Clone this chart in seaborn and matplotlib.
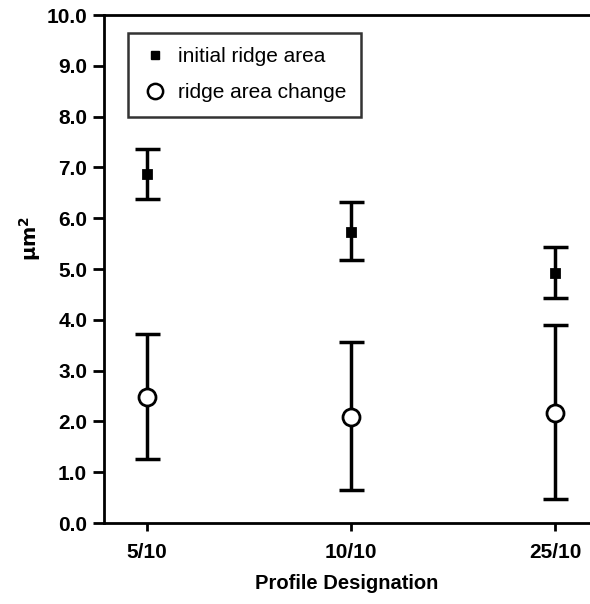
import numpy as np
import pandas as pd
import seaborn as sns
import matplotlib.pyplot as plt
from matplotlib.lines import Line2D

# Data
profiles = ["5/10", "10/10", "25/10"]
initial_mean = [6.88, 5.73, 4.92]
initial_low = [6.38, 5.17, 4.43]
initial_high = [7.37, 6.33, 5.43]
change_mean = [2.48, 2.09, 2.16]
change_low = [1.27, 0.65, 0.48]
change_high = [3.72, 3.57, 3.90]

df = pd.DataFrame({
    "pos": np.arange(len(profiles)),
    "profile": profiles,
    "initial": initial_mean,
    "change": change_mean,
})

sns.set_theme(style="white")
plt.rcParams["font.family"] = ["Liberation Sans", "DejaVu Sans"]
plt.rcParams["text.color"] = "black"
plt.rcParams["axes.labelcolor"] = "black"
plt.rcParams["xtick.color"] = "black"
plt.rcParams["ytick.color"] = "black"

fig = plt.figure(figsize=(5.9, 6.04), dpi=100)
ax = fig.add_axes([0.176, 0.134, 0.824, 0.841])

# Error bars
for mean, low, high in [(initial_mean, initial_low, initial_high),
                        (change_mean, change_low, change_high)]:
    m = np.array(mean)
    yerr = [m - np.array(low), np.array(high) - m]
    ax.errorbar(df["pos"], m, yerr=yerr, fmt="none", ecolor="black",
                elinewidth=2.5, capsize=9, capthick=2.5, zorder=2)

# Markers
sns.scatterplot(data=df, x="pos", y="initial", marker="s", s=50,
                color="black", edgecolor="black", ax=ax, zorder=3)
sns.scatterplot(data=df, x="pos", y="change", marker="o", s=150,
                facecolor="white", edgecolor="black", linewidth=2, ax=ax, zorder=3)

ax.set_xlim(-0.21, 2.17)
ax.set_ylim(0, 10)
ax.set_xticks(df["pos"])
ax.set_xticklabels(profiles, fontsize=15, fontweight="bold")
ax.set_yticks(np.arange(0, 10.1, 1.0))
ax.set_yticklabels([f"{v:.1f}" for v in np.arange(0, 10.1, 1.0)],
                   fontsize=15, fontweight="bold")
ax.tick_params(axis="y", direction="out", length=8, width=2, left=True, pad=4)
ax.tick_params(axis="x", direction="out", length=6, width=2, bottom=True, pad=8)

ax.set_xlabel("Profile Designation", fontsize=14.5, fontweight="bold", labelpad=9)
ax.set_ylabel("$\\mathbf{\\mu m^{2}}$", fontsize=14, fontweight="bold")
ax.yaxis.set_label_coords(-0.125, 0.56)

for side in ["left", "top", "bottom"]:
    ax.spines[side].set_visible(True)
    ax.spines[side].set_color("black")
    ax.spines[side].set_linewidth(2)
ax.spines["right"].set_visible(False)

handles = [
    Line2D([], [], marker="s", color="black", linestyle="none", markersize=6),
    Line2D([], [], marker="o", markerfacecolor="white", markeredgecolor="black",
           markeredgewidth=1.8, linestyle="none", markersize=11),
]
leg = ax.legend(handles, ["initial ridge area", "ridge area change"],
                loc="upper left", bbox_to_anchor=(0.049, 0.965), fontsize=15,
                frameon=True, fancybox=False, edgecolor="black",
                handlelength=1.2, handletextpad=0.5, labelspacing=0.8,
                borderpad=0.7, borderaxespad=0.0)
leg.get_frame().set_linewidth(1.8)

fig.savefig("out.png", dpi=100)
